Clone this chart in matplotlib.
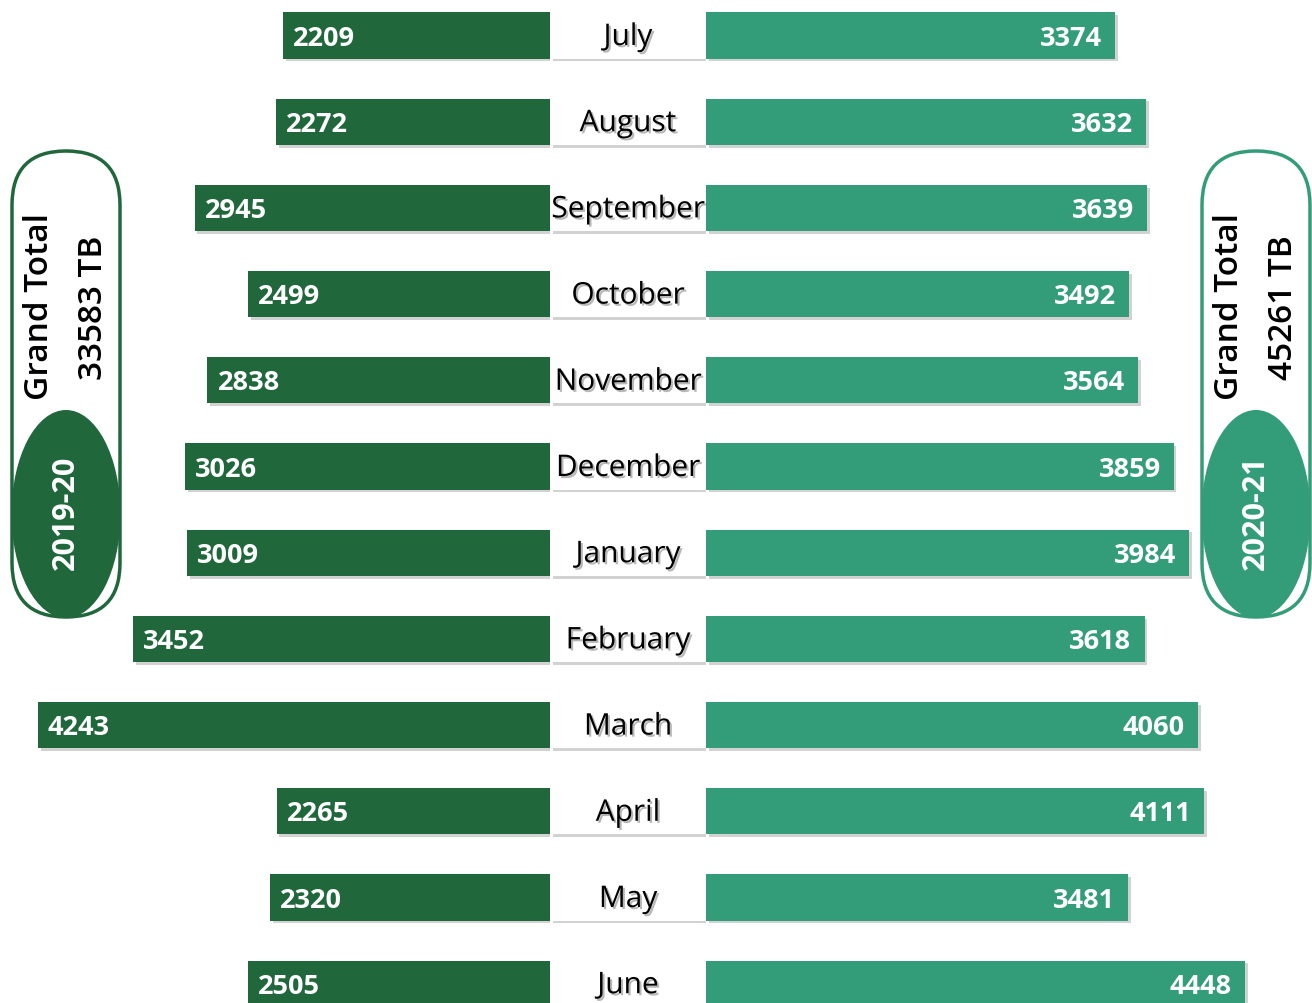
import matplotlib
matplotlib.use('Agg')
import matplotlib.pyplot as plt
from matplotlib import patheffects as pe
from matplotlib.patches import FancyBboxPatch, Ellipse

months = ["July", "August", "September", "October", "November", "December",
          "January", "February", "March", "April", "May", "June"]
fy_2019_20 = [2209, 2272, 2945, 2499, 2838, 3026, 3009, 3452, 4243, 2265, 2320, 2505]
fy_2020_21 = [3374, 3632, 3639, 3492, 3564, 3859, 3984, 3618, 4060, 4111, 3481, 4448]
year_labels = ["2019-20", "2020-21"]
total_labels = ["33583 TB", "45261 TB"]

DARK = "#21673C"
LIGHT = "#339C78"

W, H = 1312, 1004
fig = plt.figure(figsize=(W / 100, H / 100), dpi=100)

row_px = 86.2
top_px = 36.5
ylim = ((H - top_px) / row_px, -top_px / row_px)
bar_h = 0.535
rows = list(range(len(months)))

shadow = [pe.SimplePatchShadow(offset=(2, -2), shadow_rgbFace="0.5", alpha=0.35), pe.Normal()]
txt_shadow = [pe.SimplePatchShadow(offset=(1.5, -1.5), shadow_rgbFace="0.3", alpha=0.4), pe.Normal()]

# Left axes (2019-20), inverted x
axL = fig.add_axes([0, 0, 550 / W, 1])
bl = axL.barh(rows, fy_2019_20, height=bar_h, color=DARK)
for b in bl:
    b.set_path_effects(shadow)
axL.set_xlim(550 / 0.1207, 0)
axL.set_ylim(*ylim)
axL.axis("off")
for i, v in enumerate(fy_2019_20):
    axL.annotate(str(v), xy=(v, i), xytext=(10, -2), textcoords="offset pixels",
                 ha="left", va="center", color="white", fontsize=19.5,
                 fontweight="bold", family="Open Sans")

# Right axes (2020-21)
axR = fig.add_axes([706 / W, 0, (W - 706) / W, 1])
br = axR.barh(rows, fy_2020_21, height=bar_h, color=LIGHT)
for b in br:
    b.set_path_effects(shadow)
axR.set_xlim(0, (W - 706) / 0.1212)
axR.set_ylim(*ylim)
axR.axis("off")
for i, v in enumerate(fy_2020_21):
    axR.annotate(str(v), xy=(v, i), xytext=(-13, -2), textcoords="offset pixels",
                 ha="right", va="center", color="white", fontsize=19.5,
                 fontweight="bold", family="Open Sans")

# Middle axes: month labels
axM = fig.add_axes([550 / W, 0, 156 / W, 1])
bm = axM.barh(rows, [1] * len(rows), height=bar_h, color="white")
for b in bm:
    b.set_path_effects(shadow)
axM.set_xlim(0, 1)
axM.set_ylim(*ylim)
axM.axis("off")
for i, m in enumerate(months):
    axM.annotate(m, xy=(0.5, i), xytext=(0, -2), textcoords="offset pixels",
                 ha="center", va="center", fontsize=21.5,
                 family="Open Sans", color="black", path_effects=txt_shadow)

# Overlay for the summary pills
axO = fig.add_axes([0, 0, 1, 1], zorder=5)
axO.set_xlim(0, W)
axO.set_ylim(H, 0)
axO.axis("off")
axO.patch.set_alpha(0)


def pill(x0, x1, color, year, total):
    w = x1 - x0
    cx = (x0 + x1) / 2
    box = FancyBboxPatch((x0, 152), w, 466,
                         boxstyle=f"round,pad=0,rounding_size={w / 2}",
                         facecolor="white", edgecolor=color, linewidth=2.5)
    axO.add_patch(box)
    axO.add_patch(Ellipse((cx, 515), w + 1, 208, facecolor=color, edgecolor="none"))
    axO.text(cx, 513, year, rotation=90, ha="center", va="center", color="white",
             fontsize=22, fontweight="bold", family="Open Sans")
    axO.text(cx - 26, 307, "Grand Total", rotation=90, ha="center", va="center",
             color="black", fontsize=24, fontstretch="condensed",
             fontweight="semibold", family="Open Sans")
    axO.text(cx + 27, 308, total, rotation=90, ha="center", va="center",
             color="black", fontsize=24, fontstretch="condensed",
             fontweight="semibold", family="Open Sans")


pill(12, 120, DARK, year_labels[0], total_labels[0])
pill(1202, 1310, LIGHT, year_labels[1], total_labels[1])

fig.savefig("out.png", dpi=100)
